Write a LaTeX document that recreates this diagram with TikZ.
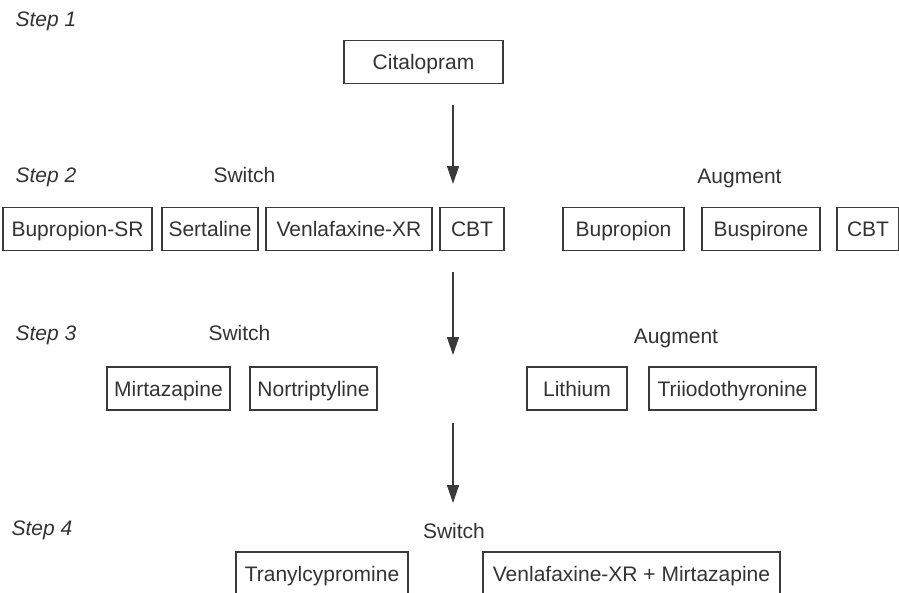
\documentclass[tikz,border=0pt]{standalone}
\usepackage{fontspec}
\setmainfont{Liberation Sans}
\usetikzlibrary{arrows.meta}
\definecolor{ink}{HTML}{333333}
\definecolor{edge}{HTML}{3A3A3A}
\begin{document}
\begin{tikzpicture}[x=1pt,y=-1pt,
  every node/.style={text=ink,font=\fontsize{21}{25}\selectfont},
  drug/.style={draw=edge,line width=1.5pt,inner sep=0pt,minimum height=43pt,text height=20pt,text depth=5pt},
  steplabel/.style={anchor=base west,font=\fontsize{21}{25}\selectfont\itshape},
  grouplabel/.style={anchor=base},
  flow/.style={draw=edge,line width=1.4pt,-{Triangle[length=18pt,width=12pt]}}]
\useasboundingbox (0,0) rectangle (899,592);
\clip (0,0) rectangle (899,592);
\fill[white] (0,0) rectangle (899,592);
% step labels
\node[steplabel] (s1) at (12,26) {Step 1};
\node[steplabel] (s2) at (12,182) {Step 2};
\node[steplabel] (s3) at (12,340) {Step 3};
\node[steplabel] (s4) at (8,535) {Step 4};
% step 1
\node[drug,minimum width=159pt] (cit) at (423.5,62) {Citalopram};
% step 2
\node[grouplabel] (sw2) at (244.5,182) {Switch};
\node[grouplabel] (au2) at (739.5,183) {Augment};
\node[drug,minimum width=149pt] (bsr) at (77.5,229) {Bupropion-SR};
\node[drug,minimum width=96pt] (ser) at (210,229) {Sertaline};
\node[drug,minimum width=166pt] (ven) at (349,229) {Venlafaxine-XR};
\node[drug,minimum width=64pt] (cbt1) at (472,229) {CBT};
\node[drug,minimum width=121pt] (bup) at (623.5,229) {Bupropion};
\node[drug,minimum width=118pt] (bus) at (761,229) {Buspirone};
\node[drug,minimum width=62pt] (cbt2) at (868,229) {CBT};
% step 3
\node[grouplabel] (sw3) at (239.5,340) {Switch};
\node[grouplabel] (au3) at (676,343) {Augment};
\node[drug,minimum width=123pt] (mir) at (168.5,388.5) {Mirtazapine};
\node[drug,minimum width=127pt] (nor) at (313.5,388.5) {Nortriptyline};
\node[drug,minimum width=100pt] (lit) at (577,388.5) {Lithium};
\node[drug,minimum width=167pt] (tri) at (732.5,388.5) {Triiodothyronine};
% step 4
\node[grouplabel] (sw4) at (454,538) {Switch};
\node[drug,minimum width=172pt] (tra) at (322,573.5) {Tranylcypromine};
\node[drug,minimum width=297pt] (vm) at (631.5,573.5) {Venlafaxine-XR + Mirtazapine};
% arrows
\coordinate (a1s) at (453,105);
\coordinate (a1e) at (453,184);
\coordinate (a2s) at (453,272);
\coordinate (a2e) at (453,355);
\coordinate (a3s) at (453,423);
\coordinate (a3e) at (453,503);
\draw[flow] (a1s) -- (a1e);
\draw[flow] (a2s) -- (a2e);
\draw[flow] (a3s) -- (a3e);
\end{tikzpicture}
\end{document}
